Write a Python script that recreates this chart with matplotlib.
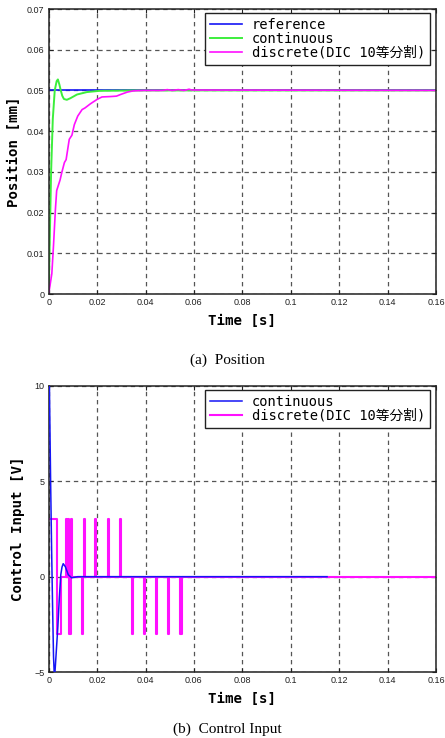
import numpy as np
import matplotlib
matplotlib.use('Agg')
import matplotlib.pyplot as plt
from matplotlib.font_manager import FontProperties

# ---- position response (a) ----
t_ref = [0.0, 0.16]
x_ref = [0.05, 0.05]

t_cont = [0, 0.0005, 0.001, 0.0017, 0.0025, 0.0033, 0.0038, 0.0044, 0.005, 0.0056,
          0.0063, 0.0075, 0.009, 0.0117, 0.0158, 0.021, 0.035, 0.16]
x_cont = [0, 0.015, 0.030, 0.043, 0.050, 0.0523, 0.0527, 0.0515, 0.0500, 0.0487,
          0.0479, 0.0477, 0.0481, 0.0490, 0.0496, 0.0499, 0.0500, 0.0500]

t_disc = [0, 0.0013, 0.002, 0.0028, 0.0033, 0.0047, 0.0054, 0.0065, 0.0072, 0.0085,
          0.0096, 0.0106, 0.012, 0.0138, 0.015, 0.0172, 0.02, 0.022, 0.0256, 0.028,
          0.0297, 0.0325, 0.035, 0.039, 0.047, 0.049, 0.051, 0.0535, 0.056, 0.058,
          0.059, 0.16]
x_disc = [0, 0.005, 0.012, 0.021, 0.0254, 0.028, 0.0298, 0.0323, 0.033, 0.038,
          0.039, 0.0416, 0.0437, 0.0453, 0.0457, 0.0467, 0.0478, 0.0484, 0.0485, 0.0486,
          0.049, 0.0496, 0.0499, 0.05, 0.05, 0.0502, 0.05, 0.0502, 0.05, 0.0503,
          0.0501, 0.05]

# ---- control input (b) ----
t_ucont = [0, 0.0004, 0.0008, 0.0012, 0.0016, 0.002, 0.0024, 0.0028, 0.0033, 0.0038,
           0.0044, 0.005, 0.0055, 0.006, 0.0069, 0.0081, 0.0095, 0.012, 0.115]
u_cont = [13, 9, 5, 1.5, -1.5, -4.2, -5.4, -4.6, -3.6, -2.6,
          -1.1, 0.1, 0.5, 0.68, 0.52, 0.1, -0.06, 0.0, 0.0]

# discrete input: switching instants and the level held after each one
t_udisc = [0, 0.0033, 0.005,
           0.0070, 0.0075, 0.0078, 0.0083, 0.0086, 0.0091, 0.0093, 0.0098,
           0.0138, 0.0143, 0.0145, 0.0150,
           0.0191, 0.0196, 0.0243, 0.0248, 0.0293, 0.0298,
           0.0344, 0.0349, 0.0394, 0.0399, 0.0442, 0.0447, 0.0493, 0.0498,
           0.0544, 0.0549, 0.16]
u_disc = [3, -3, 0,
          3, 0, 3, 0, -3, 0, 3, 0,
          -3, 0, 3, 0,
          3, 0, 3, 0, 3, 0,
          -3, 0, -3, 0, -3, 0, -3, 0,
          -3, 0, 0]

xticks = [0, 0.02, 0.04, 0.06, 0.08, 0.1, 0.12, 0.14, 0.16]
xticklabels = ['0', '0.02', '0.04', '0.06', '0.08', '0.1', '0.12', '0.14', '0.16']

blue = '#1515f5'
green = '#3cee3c'
magenta = '#ff10ff'

label_font = FontProperties(family=['DejaVu Sans Mono', 'Noto Sans CJK JP'], weight='bold', size=10.2)
legend_font = FontProperties(family=['DejaVu Sans Mono', 'Noto Sans CJK JP'], size=9.9)
tick_font = FontProperties(family='Liberation Sans', size=6.5)

fig = plt.figure(figsize=(4.45, 7.38), dpi=100)
ax1 = fig.add_axes([0.1094, 0.6016, 0.8703, 0.3862])
ax2 = fig.add_axes([0.1094, 0.0894, 0.8703, 0.3876])


def style(ax):
    ax.set_xlim(0, 0.16)
    ax.set_xticks(xticks)
    ax.set_xticklabels(xticklabels, fontproperties=tick_font)
    for lab in ax.get_yticklabels():
        lab.set_fontproperties(tick_font)
    ax.tick_params(direction='in', length=3, width=0.8, top=True, right=True, pad=3, colors='#222222')
    ax.grid(True, color='#555555', linestyle=(0, (3.5, 3)), linewidth=0.9)
    for sp in ax.spines.values():
        sp.set_linewidth(1.1)
        sp.set_color('#222222')
    ax.set_xlabel('Time [s]', fontproperties=label_font, labelpad=5)


def add_legend(ax, handles):
    leg = ax.legend(handles=handles, loc='upper right', bbox_to_anchor=(0.985, 0.986),
                    borderaxespad=0, prop=legend_font, fancybox=False, edgecolor='#222222',
                    framealpha=1, handlelength=2.3, handletextpad=0.75, labelspacing=0.0,
                    borderpad=0.35)
    leg.get_frame().set_linewidth(1.0)


# (a) Position
h1, = ax1.plot(t_ref, x_ref, color=blue, lw=1.2, label='reference')
h2, = ax1.plot(t_cont, x_cont, color=green, lw=1.4, label='continuous')
h3, = ax1.plot(t_disc, x_disc, color=magenta, lw=1.2, label='discrete(DIC 10等分割)')
ax1.set_ylim(0, 0.07)
ax1.set_yticks([0, 0.01, 0.02, 0.03, 0.04, 0.05, 0.06, 0.07])
ax1.set_yticklabels(['0', '0.01', '0.02', '0.03', '0.04', '0.05', '0.06', '0.07'])
style(ax1)
ax1.set_ylabel('Position [mm]', fontproperties=label_font, labelpad=4)
add_legend(ax1, [h1, h2, h3])

# (b) Control Input
l_disc, = ax2.plot(t_udisc, u_disc, color=magenta, lw=1.5, drawstyle='steps-post',
                   label='discrete(DIC 10等分割)', zorder=2)
l_cont, = ax2.plot(t_ucont, u_cont, color=blue, lw=1.1, label='continuous', zorder=3)
ax2.set_ylim(-5, 10)
ax2.set_yticks([-5, 0, 5, 10])
ax2.set_yticklabels(['\u22125', '0', '5', '10'])
style(ax2)
ax2.set_ylabel('Control Input [V]', fontproperties=label_font, labelpad=7)
add_legend(ax2, [l_cont, l_disc])

fig.text(0.51, 0.512, '(a)  Position', ha='center', va='center',
         family='Liberation Serif', fontsize=11)
fig.text(0.51, 0.012, '(b)  Control Input', ha='center', va='center',
         family='Liberation Serif', fontsize=11)

fig.savefig('out.png', dpi=100)
